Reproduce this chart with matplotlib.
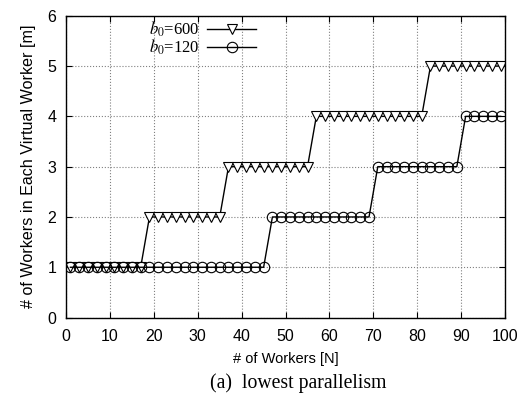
import numpy as np
import matplotlib.pyplot as plt

plt.rcParams['font.family'] = ['Liberation Sans', 'DejaVu Sans']
plt.rcParams['mathtext.fontset'] = 'stix'

# b0 = 600 series
x_600 = [1, 3, 5, 7, 9, 11, 13, 15, 17,
         19, 21, 23, 25, 27, 29, 31, 33, 35,
         37, 39, 41, 43, 45, 47, 49, 51, 53, 55,
         57, 59, 61, 63, 65, 67, 69, 71, 73, 75, 77, 79, 81,
         83, 85, 87, 89, 91, 93, 95, 97, 99]
y_600 = [1] * 9 + [2] * 9 + [3] * 10 + [4] * 13 + [5] * 9

# b0 = 120 series
x_120 = list(range(1, 46, 2)) + list(range(47, 70, 2)) + \
    list(range(71, 90, 2)) + list(range(91, 100, 2))
y_120 = [1] * 23 + [2] * 12 + [3] * 10 + [4] * 5

fig = plt.figure(figsize=(5.24, 3.94), dpi=100)
ax = fig.add_axes([0.126, 0.194, 0.838, 0.766])

ax.plot(x_600, y_600, 'k-', linewidth=1.0, marker='v', markersize=7.5,
        markerfacecolor='white', markeredgecolor='black', markeredgewidth=0.8,
        label='$b_0$=600')
ax.plot(x_120, y_120, 'k-', linewidth=1.0, marker='o', markersize=7.5,
        markerfacecolor='none', markeredgecolor='black', markeredgewidth=0.8,
        label='$b_0$=120')

ax.set_xlim(0, 100)
ax.set_ylim(0, 6)
ax.set_xticks(np.arange(0, 101, 10))
ax.set_yticks(np.arange(0, 7, 1))
ax.tick_params(direction='in', top=True, right=True, labelsize=11.5, length=4)
ax.tick_params(axis='x', pad=8)
ax.tick_params(axis='y', pad=7)
ax.grid(True, linestyle=':', color='gray', linewidth=0.8)
for s in ax.spines.values():
    s.set_linewidth(1.0)

ax.set_xlabel('# of Workers [N]', fontsize=10.5, labelpad=6)
ax.set_ylabel('# of Workers in Each Virtual Worker [m]', fontsize=11.6, labelpad=8)

leg = ax.legend(loc='upper left', bbox_to_anchor=(0.167, 1.02), frameon=False,
                markerfirst=False, handlelength=2.9, labelspacing=-0.08,
                handletextpad=0.45, borderaxespad=0.2,
                prop={'family': 'Liberation Serif', 'size': 12})

fig.text(0.57, 0.028, '(a)  lowest parallelism', ha='center', va='center',
         fontsize=14.2, family='Liberation Serif')

plt.savefig('out.png', dpi=100)
plt.close()
